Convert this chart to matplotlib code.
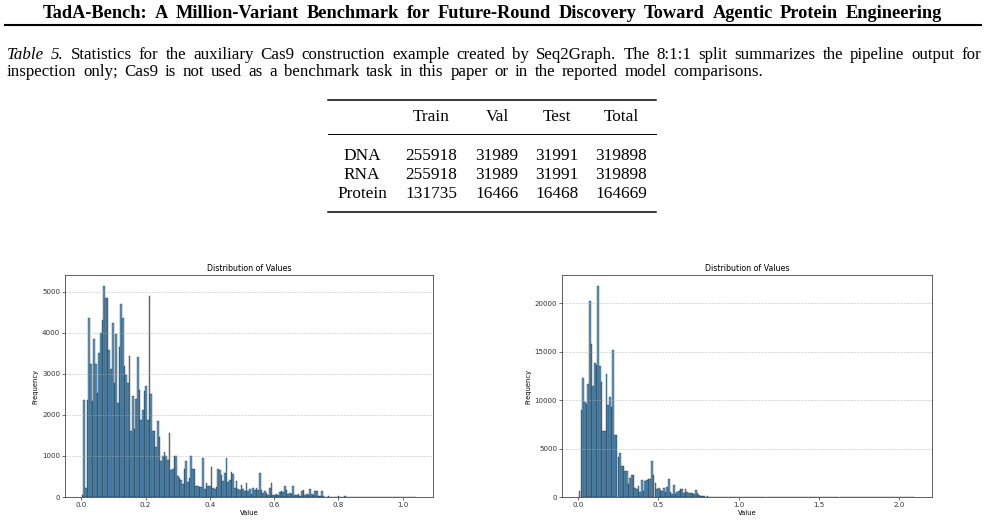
import numpy as np
import matplotlib
matplotlib.use("Agg")
import matplotlib.pyplot as plt
from matplotlib.lines import Line2D

# ---- page text ----
page_title = ("TadA-Bench: A Million-Variant Benchmark for Future-Round Discovery "
              "Toward Agentic Protein Engineering")
caption_label = "Table 5."
caption_line1 = ("Statistics for the auxiliary Cas9 construction example created by Seq2Graph. "
                 "The 8:1:1 split summarizes the pipeline output for")
caption_line2 = ("inspection only; Cas9 is not used as a benchmark task in this paper "
                 "or in the reported model comparisons.")

# ---- table values ----
table_cols = ["Train", "Val", "Test", "Total"]
table_rows = ["DNA", "RNA", "Protein"]
train_counts = [255918, 255918, 131735]
val_counts = [31989, 31989, 16466]
test_counts = [31991, 31991, 16468]
total_counts = [319898, 319898, 164669]

# ---- histogram 1 (200 bins) ----
left_range = (0.0015, 1.042)
left_counts = [
    50, 2370, 220, 2360, 4370, 3230, 2350, 3850, 3250, 2540,
    3500, 3990, 4300, 5150, 4840, 4850, 3570, 3110, 4240, 2770,
    3960, 2300, 3650, 4690, 4370, 3200, 2970, 2770, 3430, 1610,
    2450, 1650, 2380, 3420, 2600, 1880, 2110, 2580, 2700, 1880,
    4890, 2520, 1600, 1610, 1220, 1860, 1450, 880, 1000, 1085,
    1000, 900, 1570, 650, 690, 1010, 1000, 520, 460, 420,
    310, 690, 870, 360, 460, 1000, 690, 680, 260, 260,
    245, 240, 955, 200, 330, 280, 260, 720, 230, 200,
    245, 690, 650, 530, 380, 590, 940, 370, 410, 620,
    550, 220, 380, 200, 160, 300, 200, 140, 350, 140,
    200, 80, 220, 160, 230, 180, 590, 160, 100, 140,
    100, 60, 230, 340, 60, 60, 80, 60, 110, 140,
    120, 260, 160, 70, 100, 80, 260, 60, 60, 70,
    25, 140, 160, 60, 80, 40, 200, 80, 40, 155,
    155, 25, 25, 155, 25, 6, 4, 20, 3, 2,
    3, 2, 5, 20, 3, 2, 4, 20, 3, 2,
    12, 2, 1, 3, 2, 10, 1, 2, 8, 1,
    2, 1, 6, 1, 2, 1, 1, 4, 1, 0,
    1, 2, 1, 0, 1, 3, 1, 0, 1, 1,
    0, 1, 1, 2, 0, 1, 0, 1, 1, 3,
]

# ---- histogram 2 (200 bins) ----
right_range = (0.0066, 2.098)
right_counts = [
    620, 9000, 12320, 9790, 9620, 11700, 20240, 15780, 11450, 13880,
    13600, 21830, 13560, 11830, 6800, 6800, 12730, 9550, 10310, 9270,
    15150, 6370, 6440, 4080, 4500, 3150, 3220, 2700, 2700, 1320,
    2000, 2320, 2280, 900, 860, 1100, 520, 1790, 590, 1620,
    1790, 1900, 1850, 3730, 2300, 1450, 800, 900, 690, 590,
    970, 520, 1000, 1900, 520, 345, 1280, 345, 520, 620,
    860, 800, 410, 860, 480, 410, 450, 410, 280, 690,
    410, 200, 140, 60, 80, 40, 60, 30, 50, 20,
    30, 15, 25, 10, 20, 8, 12, 5, 10, 4,
    6, 2, 3, 1, 2, 0, 1, 0, 0, 1,
] + [0] * 99 + [1]

W, H = 986, 522
fig = plt.figure(figsize=(W / 100, H / 100), dpi=100)
renderer = fig.canvas.get_renderer()
serif = "Liberation Serif"


def px(x, y):
    return x / W, 1 - y / H


def hline(x0, x1, y, lw):
    (a, b), (c, _) = px(x0, y), px(x1, y)
    fig.add_artist(Line2D([a, c], [b, b], transform=fig.transFigure, color="black", lw=lw))


def justified(words, x0, x1, y, size, weight="normal"):
    # words: list of (word, style); spread them so the line runs from x0 to x1
    texts, widths = [], []
    for w, st in words:
        t = fig.text(0, 1 - y / H, w, family=serif, style=st, fontweight=weight,
                     fontsize=size, ha="left", va="center")
        texts.append(t)
        widths.append(t.get_window_extent(renderer).width)
    gap = (x1 - x0 - sum(widths)) / (len(words) - 1)
    x = x0
    for t, wd in zip(texts, widths):
        t.set_x(x / W)
        x += wd + gap


# header
justified([(w, "normal") for w in page_title.split()], 43, 942, 13, 13.2, weight="bold")
hline(5, 981, 25, 1.5)

# caption
line1 = [(w, "italic") for w in caption_label.split()] + [(w, "normal") for w in caption_line1.split()]
justified(line1, 7, 981, 55, 12.2)
justified([(w, "normal") for w in caption_line2.split()], 7, 763, 72, 12.2)

# table
col_x = [431, 497, 557, 621]
row_y = [156, 175, 194]
hline(328, 656, 100, 1.1)
hline(328, 656, 134, 0.7)
hline(328, 656, 212, 1.1)
for cx, name in zip(col_x, table_cols):
    fig.text(*px(cx, 117), name, family=serif, fontsize=12.4, ha="center", va="center")
for i, rname in enumerate(table_rows):
    fig.text(*px(362, row_y[i]), rname, family=serif, fontsize=12.4, ha="center", va="center")
    vals = [train_counts[i], val_counts[i], test_counts[i], total_counts[i]]
    for cx, v in zip(col_x, vals):
        fig.text(*px(cx, row_y[i]), str(v), family=serif, fontsize=12.4,
                 ha="center", va="center")


# histograms
def draw_hist(ax, counts, rng, xstep, ystep):
    edges = np.linspace(rng[0], rng[1], len(counts) + 1)
    centers = (edges[:-1] + edges[1:]) / 2
    ax.hist(centers, bins=edges, weights=counts, color="#1f77b4", edgecolor="black",
            alpha=0.7, linewidth=0.3)
    ax.set_title("Distribution of Values", fontsize=5.7, pad=3)
    ax.set_xlabel("Value", fontsize=4.9, labelpad=1.5)
    ax.set_ylabel("Frequency", fontsize=4.9, labelpad=2.5)
    ax.xaxis.set_major_locator(plt.MultipleLocator(xstep))
    ax.yaxis.set_major_locator(plt.MultipleLocator(ystep))
    ax.tick_params(labelsize=5.1, length=2, width=0.5, pad=1.5, colors="#333333")
    ax.grid(axis="y", linestyle="--", alpha=0.7, linewidth=0.45)
    for s in ax.spines.values():
        s.set_linewidth(0.6)
        s.set_color("#444444")


ax1 = fig.add_axes([65 / W, 1 - 497 / H, 368 / W, 222 / H])
draw_hist(ax1, left_counts, left_range, 0.2, 1000)
ax2 = fig.add_axes([562 / W, 1 - 497 / H, 370 / W, 222 / H])
draw_hist(ax2, right_counts, right_range, 0.5, 5000)

fig.savefig("out.png", dpi=100)
